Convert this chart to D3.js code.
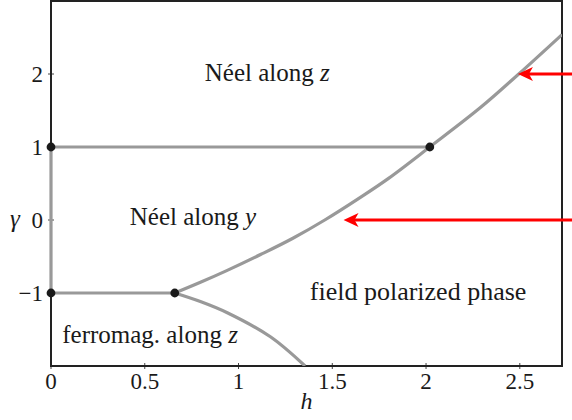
<!DOCTYPE html>
<html>
<head>
<meta charset="utf-8">
<script src="https://cdn.jsdelivr.net/npm/d3@7"></script>
<style>
  svg text { font-family: "Liberation Serif", "Times New Roman", serif; }
</style>
</head>
<body style="margin:0">
<script>
// phase diagram, h on x, gamma on y
var xTicks = [0, 0.5, 1, 1.5, 2, 2.5];
var yTicks = [-1, 0, 1, 2];

// upper boundary (Neel -> field polarized)
var upperLine = [[0.66, -1], [0.80, -0.85], [0.94, -0.69], [1.12, -0.47], [1.29, -0.25], [1.46, 0.0],
                 [1.65, 0.31], [1.80, 0.57], [2.02, 1], [2.29, 1.54], [2.49, 1.99], [2.725, 2.54]];
// lower boundary (ferromag -> field polarized)
var lowerLine = [[0.66, -1], [0.80, -1.12], [0.94, -1.27], [1.17, -1.6], [1.355, -2.0]];
var hLine1 = [[0, 1], [2.02, 1]];
var hLine2 = [[0, -1], [0.66, -1]];
var vLine = [[0, -1], [0, 1]];
var dots = [[0, 1], [0, -1], [0.66, -1], [2.02, 1]];

// red arrows: gamma value, h of the tip, h of the tail
var arrows = [{ g: 2, tip: 2.49, tail: 2.8 }, { g: 0, tip: 1.56, tail: 2.8 }];

var labels = [
  { h: 0.82, g: 1.91, txt: "Néel along ", v: "z" },
  { h: 0.42, g: -0.07, txt: "Néel along ", v: "y" },
  { h: 1.38, g: -1.09, txt: "field polarized phase", v: "" },
  { h: 0.06, g: -1.68, txt: "ferromag. along ", v: "z" }
];

var W = 572, H = 420;
var margin = { top: 1, right: 10, bottom: 54, left: 51 };
var width = W - margin.left - margin.right;
var height = H - margin.top - margin.bottom;

var svg = d3.select("body").append("svg").attr("width", W).attr("height", H);

var x = d3.scaleLinear().domain([0, 2.725]).range([0, width]);
var y = d3.scaleLinear().domain([-2, 3]).range([height, 0]);

var g = svg.append("g").attr("transform", "translate(" + margin.left + "," + margin.top + ")");

g.append("clipPath").attr("id", "clip").append("rect")
  .attr("x", 0).attr("y", 0).attr("width", width).attr("height", height);

// ticks crossing the frame
g.selectAll(".xt").data(xTicks).enter().append("line")
  .attr("x1", d => x(d)).attr("x2", d => x(d))
  .attr("y1", height - 3).attr("y2", height + 3)
  .attr("stroke", "#444").attr("stroke-width", 1);
g.selectAll(".yt").data(yTicks).enter().append("line")
  .attr("y1", d => y(d)).attr("y2", d => y(d))
  .attr("x1", -3).attr("x2", 3)
  .attr("stroke", "#444").attr("stroke-width", 1);

g.selectAll(".xl").data(xTicks).enter().append("text")
  .attr("x", d => x(d)).attr("y", height + 23)
  .attr("text-anchor", "middle").attr("font-size", 23).attr("fill", "#1a1a1a")
  .text(d => d);
g.selectAll(".yl").data(yTicks).enter().append("text")
  .attr("x", -8).attr("y", d => y(d) + 8)
  .attr("text-anchor", "end").attr("font-size", 23).attr("fill", "#1a1a1a")
  .text(d => d < 0 ? "\u2212" + (-d) : d);

g.append("text").attr("x", width / 2).attr("y", height + 43)
  .attr("text-anchor", "middle").attr("font-size", 24).attr("font-style", "italic")
  .attr("fill", "#1a1a1a").text("h");
g.append("text").attr("x", -36).attr("y", y(0) + 7)
  .attr("text-anchor", "middle").attr("font-size", 25).attr("font-style", "italic")
  .attr("fill", "#1a1a1a").text("γ");

// frame
g.append("rect").attr("x", 0).attr("y", 0).attr("width", width).attr("height", height)
  .attr("fill", "none").attr("stroke", "#222").attr("stroke-width", 2);

var line = d3.line().x(d => x(d[0])).y(d => y(d[1]));
var curve = d3.line().x(d => x(d[0])).y(d => y(d[1])).curve(d3.curveCatmullRom.alpha(0.5));

var plot = g.append("g").attr("clip-path", "url(#clip)");
[hLine1, hLine2].forEach(function (d) {
  plot.append("path").attr("d", line(d))
    .attr("fill", "none").attr("stroke", "#999").attr("stroke-width", 3.2);
});
[upperLine, lowerLine].forEach(function (d) {
  plot.append("path").attr("d", curve(d))
    .attr("fill", "none").attr("stroke", "#999").attr("stroke-width", 3.2);
});
// the h = 0 segment sits on the frame, so it is drawn unclipped over it
g.append("path").attr("d", line(vLine))
  .attr("fill", "none").attr("stroke", "#999").attr("stroke-width", 3.2);

g.selectAll(".dot").data(dots).enter().append("circle")
  .attr("cx", d => x(d[0])).attr("cy", d => y(d[1])).attr("r", 4.4)
  .attr("fill", "#1a1a1a");

// arrows
arrows.forEach(function (a) {
  var xt = x(a.tip), xe = x(a.tail), yy = y(a.g);
  g.append("line").attr("x1", xe).attr("x2", xt + 10).attr("y1", yy).attr("y2", yy)
    .attr("stroke", "#ff0000").attr("stroke-width", 3);
  g.append("path")
    .attr("d", "M" + xt + "," + yy + " L" + (xt + 15) + "," + (yy - 7) +
      " L" + (xt + 11) + "," + yy + " L" + (xt + 15) + "," + (yy + 7) + "Z")
    .attr("fill", "#ff0000");
});

labels.forEach(function (l) {
  var t = g.append("text").attr("x", x(l.h)).attr("y", y(l.g))
    .attr("font-size", l.v ? 25 : 26).attr("fill", "#1a1a1a");
  t.append("tspan").text(l.txt);
  if (l.v) t.append("tspan").attr("font-style", "italic").text(l.v);
});
</script>
</body>
</html>
